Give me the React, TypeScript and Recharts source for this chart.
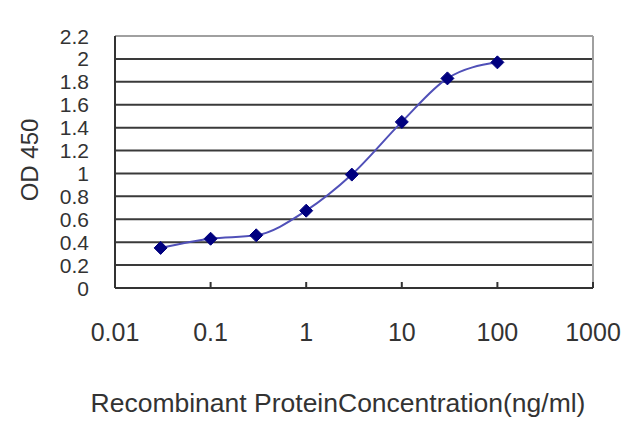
import React from 'react';
import { LineChart, Line, XAxis, YAxis, ReferenceLine, Label } from 'recharts';

const concentrations = [0.03, 0.1, 0.3, 1, 3, 10, 30, 100];
const od450 = [0.35, 0.43, 0.46, 0.675, 0.99, 1.45, 1.83, 1.97];
const xTicks = [0.01, 0.1, 1, 10, 100, 1000];
const xTickLabels = ['0.01', '0.1', '1', '10', '100', '1000'];
const yTicks = [0, 0.2, 0.4, 0.6, 0.8, 1, 1.2, 1.4, 1.6, 1.8, 2, 2.2];
const yTickLabels = ['0', '0.2', '0.4', '0.6', '0.8', '1', '1.2', '1.4', '1.6', '1.8', '2', '2.2'];
const gridValues = [0.2, 0.4, 0.6, 0.8, 1, 1.2, 1.4, 1.6, 1.8, 2];

const data = concentrations.map((c, i) => ({ x: c, y: od450[i] }));

const FONT = '"Liberation Sans", Arial, sans-serif';
const TEXT = '#333333';
const X_TICK_MARGIN = 35;

const XTick = (props: any) => {
  const { x, y, payload } = props;
  const axisY = y - X_TICK_MARGIN;
  const i = xTicks.indexOf(payload.value);
  return (
    <g>
      <line x1={x} x2={x} y1={axisY} y2={axisY - 6} stroke="#333" strokeWidth={2} />
      <text x={x} y={y} dy="0.71em" textAnchor="middle" fontSize={25} fill={TEXT} fontFamily={FONT}>
        {i >= 0 ? xTickLabels[i] : String(payload.value)}
      </text>
    </g>
  );
};

const YTick = (props: any) => {
  const { x, y, payload } = props;
  const i = yTicks.indexOf(payload.value);
  return (
    <text x={x} y={y} dy="0.36em" textAnchor="end" fontSize={21} fill={TEXT} fontFamily={FONT}>
      {i >= 0 ? yTickLabels[i] : String(payload.value)}
    </text>
  );
};

const Diamond = (props: any) => {
  const { cx, cy } = props;
  if (cx == null || cy == null) return null;
  const r = 6.5;
  return (
    <path
      d={`M${cx},${cy - r}L${cx + r},${cy}L${cx},${cy + r}L${cx - r},${cy}Z`}
      fill="#00007f"
      stroke="#00007f"
    />
  );
};

export default function App() {
  return (
    <div style={{ position: 'absolute', left: 0, top: 0, width: 640, height: 427, background: '#fff' }}>
      <LineChart width={640} height={427} data={data} margin={{ top: 36, right: 47, bottom: 0, left: 0 }}>
        <XAxis
          dataKey="x"
          type="number"
          scale="log"
          domain={[0.01, 1000]}
          ticks={xTicks}
          allowDataOverflow
          height={139}
          tickLine={false}
          tickSize={0}
          tickMargin={X_TICK_MARGIN}
          tick={<XTick />}
          axisLine={{ stroke: '#333', strokeWidth: 2 }}
          interval={0}
        >
          <Label
            content={(p: any) => {
              const vb = p.viewBox || {};
              return (
                <text
                  x={338}
                  y={vb.y + vb.height - 24}
                  textAnchor="middle"
                  dominantBaseline="central"
                  fontSize={26.5}
                  fill={TEXT}
                  fontFamily={FONT}
                >
                  Recombinant ProteinConcentration(ng/ml)
                </text>
              );
            }}
          />
        </XAxis>
        <YAxis
          type="number"
          domain={[0, 2.2]}
          ticks={yTicks}
          width={115}
          tickLine={false}
          tickSize={0}
          tickMargin={26}
          tick={<YTick />}
          axisLine={{ stroke: '#333', strokeWidth: 2 }}
          interval={0}
        >
          <Label
            content={(p: any) => {
              const vb = p.viewBox || {};
              const cx = 29;
              const cy = vb.y + vb.height / 2 - 2;
              return (
                <text
                  x={cx}
                  y={cy}
                  transform={`rotate(-90 ${cx} ${cy})`}
                  textAnchor="middle"
                  dominantBaseline="central"
                  fontSize={24}
                  fill={TEXT}
                  fontFamily={FONT}
                >
                  OD 450
                </text>
              );
            }}
          />
        </YAxis>
        {gridValues.map((v) => (
          <ReferenceLine key={v} y={v} stroke="#3a3a3a" strokeWidth={2} />
        ))}
        <ReferenceLine y={2.2} stroke="#a0a0a0" strokeWidth={2} />
        <ReferenceLine x={1000} stroke="#a0a0a0" strokeWidth={2} />
        <Line
          dataKey="y"
          type="monotone"
          stroke="#5050b8"
          strokeWidth={2}
          dot={<Diamond />}
          activeDot={false}
          isAnimationActive={false}
        />
      </LineChart>
    </div>
  );
}
